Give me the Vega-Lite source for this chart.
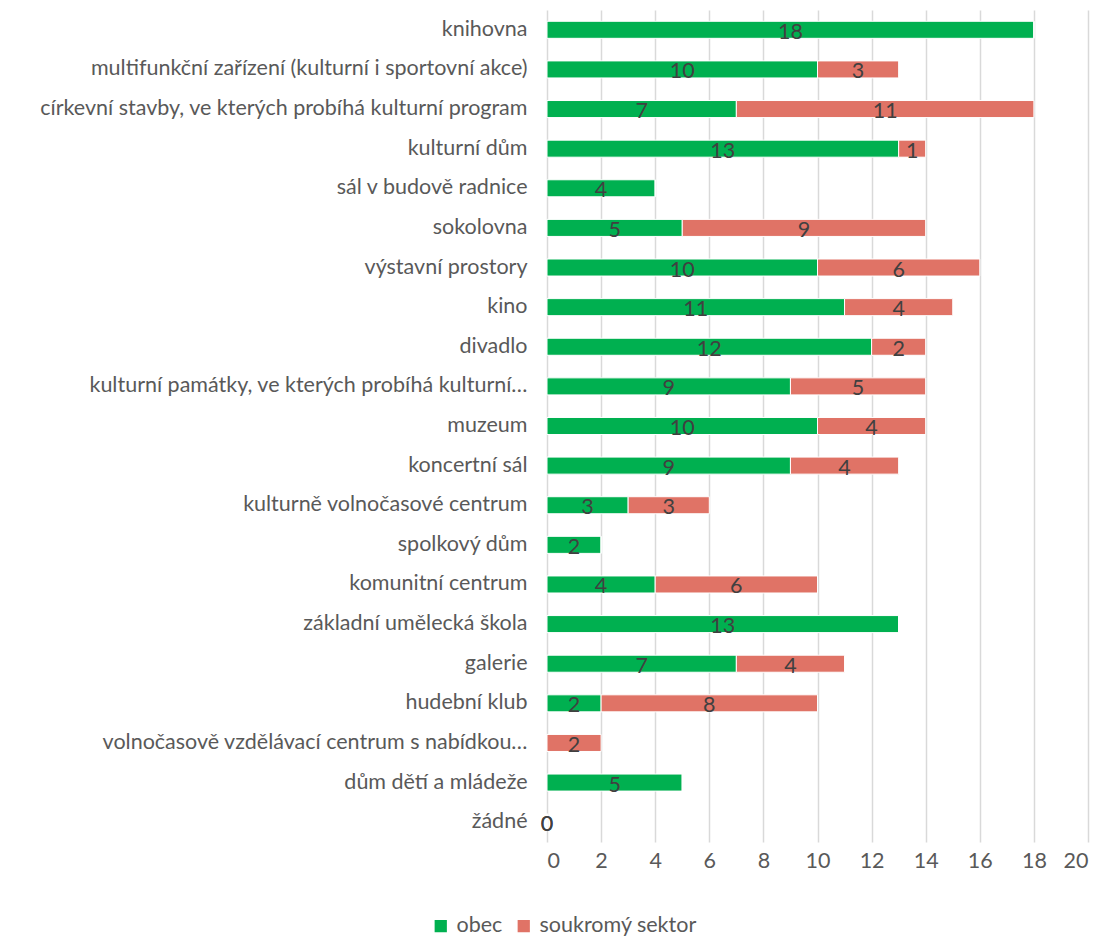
{
  "$schema": "https://vega.github.io/schema/vega-lite/v6.json",
  "autosize": "none",
  "width": 541,
  "height": 832,
  "padding": {"left": 547, "top": 10, "right": 20, "bottom": 96},
  "background": "white",
  "config": {
    "view": {"stroke": null},
    "font": "Lato"
  },
  "data": {
    "values": [
      {"cat": "knihovna", "s": "obec", "o": 1, "v": 18},
      {"cat": "knihovna", "s": "soukromý sektor", "o": 2, "v": 0},
      {"cat": "multifunkční zařízení (kulturní i sportovní akce)", "s": "obec", "o": 1, "v": 10},
      {"cat": "multifunkční zařízení (kulturní i sportovní akce)", "s": "soukromý sektor", "o": 2, "v": 3},
      {"cat": "církevní stavby, ve kterých probíhá kulturní program", "s": "obec", "o": 1, "v": 7},
      {"cat": "církevní stavby, ve kterých probíhá kulturní program", "s": "soukromý sektor", "o": 2, "v": 11},
      {"cat": "kulturní dům", "s": "obec", "o": 1, "v": 13},
      {"cat": "kulturní dům", "s": "soukromý sektor", "o": 2, "v": 1},
      {"cat": "sál v budově radnice", "s": "obec", "o": 1, "v": 4},
      {"cat": "sál v budově radnice", "s": "soukromý sektor", "o": 2, "v": 0},
      {"cat": "sokolovna", "s": "obec", "o": 1, "v": 5},
      {"cat": "sokolovna", "s": "soukromý sektor", "o": 2, "v": 9},
      {"cat": "výstavní prostory", "s": "obec", "o": 1, "v": 10},
      {"cat": "výstavní prostory", "s": "soukromý sektor", "o": 2, "v": 6},
      {"cat": "kino", "s": "obec", "o": 1, "v": 11},
      {"cat": "kino", "s": "soukromý sektor", "o": 2, "v": 4},
      {"cat": "divadlo", "s": "obec", "o": 1, "v": 12},
      {"cat": "divadlo", "s": "soukromý sektor", "o": 2, "v": 2},
      {"cat": "kulturní památky, ve kterých probíhá kulturní…", "s": "obec", "o": 1, "v": 9},
      {"cat": "kulturní památky, ve kterých probíhá kulturní…", "s": "soukromý sektor", "o": 2, "v": 5},
      {"cat": "muzeum", "s": "obec", "o": 1, "v": 10},
      {"cat": "muzeum", "s": "soukromý sektor", "o": 2, "v": 4},
      {"cat": "koncertní sál", "s": "obec", "o": 1, "v": 9},
      {"cat": "koncertní sál", "s": "soukromý sektor", "o": 2, "v": 4},
      {"cat": "kulturně volnočasové centrum", "s": "obec", "o": 1, "v": 3},
      {"cat": "kulturně volnočasové centrum", "s": "soukromý sektor", "o": 2, "v": 3},
      {"cat": "spolkový dům", "s": "obec", "o": 1, "v": 2},
      {"cat": "spolkový dům", "s": "soukromý sektor", "o": 2, "v": 0},
      {"cat": "komunitní centrum", "s": "obec", "o": 1, "v": 4},
      {"cat": "komunitní centrum", "s": "soukromý sektor", "o": 2, "v": 6},
      {"cat": "základní umělecká škola", "s": "obec", "o": 1, "v": 13},
      {"cat": "základní umělecká škola", "s": "soukromý sektor", "o": 2, "v": 0},
      {"cat": "galerie", "s": "obec", "o": 1, "v": 7},
      {"cat": "galerie", "s": "soukromý sektor", "o": 2, "v": 4},
      {"cat": "hudební klub", "s": "obec", "o": 1, "v": 2},
      {"cat": "hudební klub", "s": "soukromý sektor", "o": 2, "v": 8},
      {"cat": "volnočasově vzdělávací centrum s nabídkou…", "s": "obec", "o": 1, "v": 0},
      {"cat": "volnočasově vzdělávací centrum s nabídkou…", "s": "soukromý sektor", "o": 2, "v": 2},
      {"cat": "dům dětí a mládeže", "s": "obec", "o": 1, "v": 5},
      {"cat": "dům dětí a mládeže", "s": "soukromý sektor", "o": 2, "v": 0},
      {"cat": "žádné", "s": "obec", "o": 1, "v": 0},
      {"cat": "žádné", "s": "soukromý sektor", "o": 2, "v": 0}
    ]
  },
  "transform": [
    {"stack": "v", "groupby": ["cat"], "sort": [{"field": "o", "order": "ascending"}], "as": ["x0", "x1"]},
    {"calculate": "(datum.x0 + datum.x1) / 2", "as": "mid"}
  ],
  "encoding": {
    "y": {
      "field": "cat",
      "type": "nominal",
      "sort": null,
      "scale": {"paddingInner": 0.57, "paddingOuter": 0.285},
      "axis": {
        "title": null,
        "ticks": false,
        "domain": false,
        "labelFontSize": 21.5,
        "labelColor": "#595959",
        "labelPadding": 20,
        "labelLimit": 600,
        "labelFont": "Lato"
      }
    }
  },
  "layer": [
    {
      "mark": {"type": "bar", "stroke": "white", "strokeWidth": 1},
      "encoding": {
        "x": {
          "field": "x0",
          "type": "quantitative",
          "scale": {"domain": [0, 20], "nice": false},
          "axis": {
            "title": null,
            "values": [0, 2, 4, 6, 8, 10, 12, 14, 16, 18, 20],
            "ticks": false,
            "domain": false,
            "grid": true,
            "gridColor": "#D9D9D9",
            "gridWidth": 1.5,
            "labelFontSize": 21.5,
            "labelColor": "#595959",
            "labelPadding": 8,
            "labelFont": "Lato"
          }
        },
        "x2": {"field": "x1"},
        "color": {
          "field": "s",
          "type": "nominal",
          "scale": {"domain": ["obec", "soukromý sektor"], "range": ["#00B050", "#E07366"]},
          "legend": {
            "title": null,
            "orient": "none",
            "direction": "horizontal",
            "legendX": -117,
            "legendY": 905,
            "symbolType": "square",
            "symbolSize": 150,
            "symbolStrokeWidth": 0,
            "labelFontSize": 21.5,
            "labelColor": "#595959",
            "labelFont": "Lato",
            "columnPadding": 10,
            "labelOffset": 5
          }
        }
      }
    },
    {
      "transform": [{"filter": "datum.v > 0 || datum.cat == 'žádné'"}],
      "mark": {"type": "text", "fontSize": 21.5, "color": "#404040", "baseline": "middle", "dy": 3, "font": "Lato"},
      "encoding": {
        "x": {"field": "mid", "type": "quantitative"},
        "text": {"field": "v", "type": "quantitative"}
      }
    }
  ]
}
